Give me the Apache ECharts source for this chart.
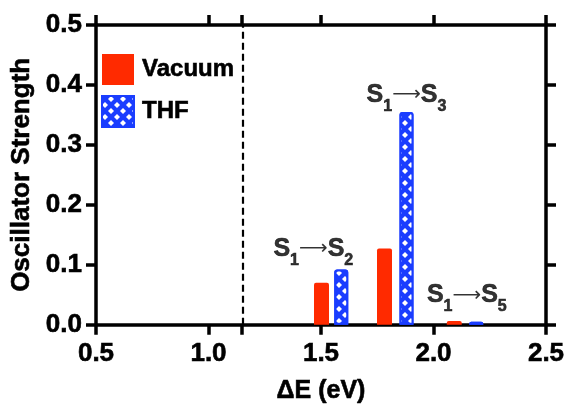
<!DOCTYPE html>
<html><head><meta charset="utf-8">
<script src="https://cdn.jsdelivr.net/npm/echarts@6/dist/echarts.min.js"></script>
<style>html,body{margin:0;padding:0;background:#fff}#c{width:569px;height:409px}</style>
</head><body><div id="c"></div>
<script>
// ---- data ----
const seriesNames = ['Vacuum', 'THF'];
const vacuumX = [1.50, 1.78, 2.09];
const vacuumY = [0.070, 0.127, 0.006];
const thfX = [1.59, 1.88, 2.19];
const thfY = [0.092, 0.355, 0.005];
const xTickValues = [0.5, 1.0, 1.5, 2.0, 2.5];
const yTickValues = [0.0, 0.1, 0.2, 0.3, 0.4, 0.5];
const gapLineX = 1.15;
const annX = [1.466, 1.880, 2.148];
const annY = [0.115, 0.372, 0.037];
const annFrom = ['1', '1', '1'];
const annTo = ['2', '3', '5'];

const FONT = '"Liberation Sans", Arial, Helvetica, sans-serif';
const RED = '#FF2A00';
const BLUE = '#1A3DFF';
const LW = 3.5;
const BOLDER = {textBorderColor: '#000', textBorderWidth: 0.6};

const chart = echarts.init(document.getElementById('c'), null, {renderer: 'canvas'});
const fmt = v => Number(v).toFixed(1);
const xTicks = xTickValues.concat([gapLineX]);

function xAxisCfg(pos, showLabel) {
  return {
    type: 'value', position: pos, min: xTickValues[0], max: xTickValues[xTickValues.length - 1],
    axisLine: {show: true, onZero: false, lineStyle: {color: '#000', width: LW}},
    axisTick: {show: true, inside: false, length: 10, customValues: xTicks, lineStyle: {color: '#000', width: LW}},
    axisLabel: Object.assign({show: showLabel, customValues: xTickValues, formatter: fmt, fontSize: 26, fontWeight: 'bold',
      color: '#000', fontFamily: FONT, margin: 16}, BOLDER),
    splitLine: {show: false}
  };
}
function yAxisCfg(pos, showLabel) {
  return {
    type: 'value', position: pos, min: yTickValues[0], max: yTickValues[yTickValues.length - 1], interval: 0.1,
    axisLine: {show: true, onZero: false, lineStyle: {color: '#000', width: LW}},
    axisTick: {show: true, inside: false, length: 10, lineStyle: {color: '#000', width: LW}},
    axisLabel: Object.assign({show: showLabel, formatter: fmt, fontSize: 26, fontWeight: 'bold', color: '#000',
      fontFamily: FONT, margin: 14}, BOLDER),
    splitLine: {show: false}
  };
}
const xb = xAxisCfg('bottom', true);
xb.name = 'ΔE (eV)'; xb.nameLocation = 'middle'; xb.nameGap = 54;
xb.nameTextStyle = Object.assign({fontSize: 25, fontWeight: 'bold', color: '#000', fontFamily: FONT}, BOLDER);
const xt = xAxisCfg('top', false);
const yl = yAxisCfg('left', true);
yl.name = 'Oscillator Strength'; yl.nameLocation = 'middle'; yl.nameGap = 61; yl.nameRotate = 90;
yl.nameTextStyle = Object.assign({fontSize: 26, fontWeight: 'bold', color: '#000', fontFamily: FONT}, BOLDER);
const yr = yAxisCfg('right', false);

const annData = annX.map((x, i) => ({
  value: [x, annY[i]],
  label: {formatter: '{s|S}{b|' + annFrom[i] + '}{a|⟶}{s|S}{b|' + annTo[i] + '}'}
}));

chart.setOption({
  animation: false,
  backgroundColor: '#fff',
  grid: {left: 96, right: 23, top: 25, bottom: 84, containLabel: false},
  xAxis: [xb, xt],
  yAxis: [yl, yr],
  legend: {
    data: seriesNames, orient: 'vertical', left: 101, top: 54, padding: 0,
    itemWidth: 32, itemHeight: 31, itemGap: 10, icon: 'rect',
    textStyle: Object.assign({fontSize: 24, fontWeight: 'bold', color: '#000', fontFamily: FONT, padding: [0, 0, 0, 3]}, BOLDER)
  },
  series: [
    {
      name: seriesNames[0], type: 'bar', xAxisIndex: 0, yAxisIndex: 0,
      data: vacuumX.map((x, i) => [x, vacuumY[i]]),
      barWidth: 15, barGap: '-100%',
      itemStyle: {color: RED, borderRadius: [2, 2, 0, 0]},
      markLine: {
        silent: true, symbol: ['none', 'none'], label: {show: false},
        lineStyle: {color: '#000', width: 2.2, type: [7, 4]},
        data: [{xAxis: gapLineX}]
      }
    },
    {
      name: seriesNames[1], type: 'bar', xAxisIndex: 0, yAxisIndex: 0,
      data: thfX.map((x, i) => [x, thfY[i]]),
      barWidth: 14, barGap: '-100%',
      itemStyle: {
        color: BLUE, borderColor: BLUE, borderWidth: 2, borderRadius: [2, 2, 0, 0],
        decal: {symbol: 'diamond', color: '#ffffff', symbolSize: 1,
          dashArrayX: [[6, 6], [0, 6, 6, 0]], dashArrayY: [6, 0], rotation: 0}
      }
    },
    {
      name: 'labels', type: 'scatter', xAxisIndex: 0, yAxisIndex: 0, silent: true,
      symbolSize: 0, data: annData,
      label: {
        show: true, position: 'inside', color: '#000',
        rich: {
          s: Object.assign({fontSize: 25, fontWeight: 'bold', fontFamily: FONT, color: '#000', lineHeight: 25,
            verticalAlign: 'bottom', padding: [0, 0, 7, 0]}, BOLDER),
          b: Object.assign({fontSize: 16, fontWeight: 'bold', fontFamily: FONT, color: '#000', lineHeight: 16,
            verticalAlign: 'bottom'}, BOLDER),
          a: {fontSize: 20, fontWeight: 'normal', fontFamily: '"DejaVu Sans"', color: '#000', lineHeight: 20,
            verticalAlign: 'bottom', padding: [0, 0, 9, 0]}
        }
      }
    }
  ]
});
</script>
</body></html>
